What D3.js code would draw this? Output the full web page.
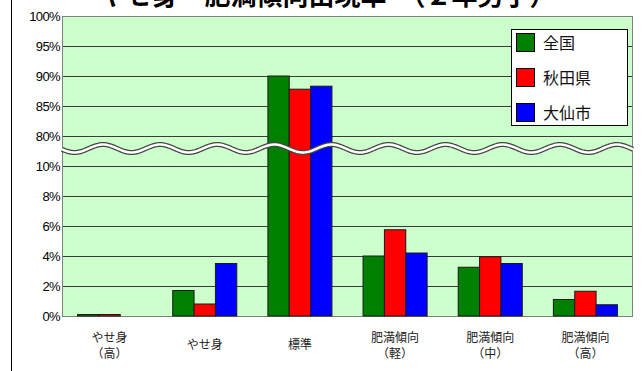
<!DOCTYPE html>
<html>
<head>
<meta charset="utf-8">
<script src="https://cdn.jsdelivr.net/npm/d3@7"></script>
<style>
  html, body { margin: 0; padding: 0; background: #fff; }
  svg { display: block; }
</style>
</head>
<body>
<svg id="chart" width="644" height="371"></svg>
<script>
// Category labels (each entry is a list of lines)
const categories = ["やせ身（高）", "やせ身", "標準", "肥満傾向（軽）", "肥満傾向（中）", "肥満傾向（高）"];
const categoryLines = [["やせ身", "（高）"], ["やせ身"], ["標準"], ["肥満傾向", "（軽）"], ["肥満傾向", "（中）"], ["肥満傾向", "（高）"]];

// Series names and colours
const seriesNames = ["全国", "秋田県", "大仙市"];
const seriesColors = ["#008000", "#FF0000", "#0000FF"];

// Rates (%) per category
const zenkoku = [0.1, 1.7, 90.0, 4.0, 3.25, 1.1];
const akita   = [0.1, 0.8, 87.8, 5.75, 3.95, 1.65];
const daisen  = [0.0, 3.5, 88.3, 4.2, 3.5, 0.75];

// Broken value axis: lower part 0–10 %, upper part 80–100 %
const tickValues = [0, 2, 4, 6, 8, 10, 80, 85, 90, 95, 100];
const tickLabels = ["0%", "2%", "4%", "6%", "8%", "10%", "80%", "85%", "90%", "95%", "100%"];

const titleText = "やせ身・肥満傾向出現率　（２年男子）";

const seriesValues = [zenkoku, akita, daisen];

const svg = d3.select("#chart");
const W = 644, H = 371;
const plot = { left: 62, right: 633, top: 16, bottom: 316 };

// Frame line on the left
svg.append("line")
  .attr("x1", 11.5).attr("x2", 11.5).attr("y1", 0).attr("y2", H)
  .attr("stroke", "#000").attr("stroke-width", 1);

// Title (runs past the top edge of the frame)
svg.append("text")
  .attr("x", 328).attr("y", 5)
  .attr("text-anchor", "middle")
  .attr("font-family", "'Noto Sans CJK JP', sans-serif")
  .attr("font-size", 26).attr("font-weight", "bold")
  .attr("fill", "#000")
  .text(titleText);

const y = d3.scaleLinear()
  .domain([0, 10, 80, 100])
  .range([plot.bottom, plot.bottom - 150, plot.bottom - 180, plot.top]);

const x0 = d3.scaleBand()
  .domain(categories)
  .range([plot.left, plot.right])
  .paddingInner(0.327).paddingOuter(0.1635);

const x1 = d3.scaleBand()
  .domain(seriesNames)
  .range([0, x0.bandwidth()]);

// Plot background
svg.append("rect")
  .attr("x", plot.left).attr("y", plot.top)
  .attr("width", plot.right - plot.left).attr("height", plot.bottom - plot.top)
  .attr("fill", "#CCFFCC");

// Gridlines
svg.append("g")
  .selectAll("line")
  .data(tickValues.filter(v => v !== 0 && v !== 100))
  .join("line")
  .attr("x1", plot.left).attr("x2", plot.right)
  .attr("y1", d => Math.round(y(d)) + 0.5).attr("y2", d => Math.round(y(d)) + 0.5)
  .attr("stroke", "#3a3a3a").attr("stroke-width", 1);

// Plot border
svg.append("rect")
  .attr("x", plot.left + 0.5).attr("y", plot.top + 0.5)
  .attr("width", plot.right - plot.left - 1).attr("height", plot.bottom - plot.top)
  .attr("fill", "none").attr("stroke", "#808080").attr("stroke-width", 1);

// Value axis labels
const yAxis = d3.axisLeft(y)
  .tickValues(tickValues)
  .tickFormat((d, i) => tickLabels[i])
  .tickSize(0).tickPadding(2);
const yg = svg.append("g")
  .attr("transform", `translate(${plot.left},0)`)
  .call(yAxis);
yg.select(".domain").remove();
yg.selectAll("text")
  .attr("font-family", "'Liberation Sans', Arial, sans-serif")
  .attr("font-size", 13)
  .attr("letter-spacing", -0.6)
  .attr("fill", "#000");

// Bars
const groups = svg.append("g")
  .selectAll("g")
  .data(categories)
  .join("g")
  .attr("transform", d => `translate(${x0(d)},0)`);

groups.selectAll("rect")
  .data((d, ci) => seriesNames.map((s, si) => ({ s, si, v: seriesValues[si][ci] })))
  .join("rect")
  .filter(d => d.v > 0)
  .attr("x", d => x1(d.s))
  .attr("y", d => y(d.v))
  .attr("width", x1.bandwidth())
  .attr("height", d => y(0) - y(d.v))
  .attr("fill", d => seriesColors[d.si])
  .attr("stroke", "#1a1a1a").attr("stroke-width", 1);

// Axis break: wavy line between 10 % and 80 %
const waveY = (y(10) + y(80)) / 2 - 2.5;
const period = (plot.right - plot.left) / 10;
const wavePts = d3.range(plot.left, plot.right + 0.5, 1)
  .map(px => [px, waveY - 4 * Math.cos(2 * Math.PI * (px - plot.left - 41) / period)]);
const waveLine = d3.line().curve(d3.curveBasis);
svg.append("path")
  .attr("d", waveLine(wavePts))
  .attr("fill", "none").attr("stroke", "#444").attr("stroke-width", 5);
svg.append("path")
  .attr("d", waveLine(wavePts))
  .attr("fill", "none").attr("stroke", "#fff").attr("stroke-width", 2.5);

// Category labels
const xl = svg.append("g")
  .selectAll("text")
  .data(categories)
  .join("text")
  .attr("text-anchor", "middle")
  .attr("font-family", "'Noto Sans CJK JP', sans-serif")
  .attr("font-size", 12)
  .attr("fill", "#222")
  .attr("transform", d => `translate(${x0(d) + x0.bandwidth() / 2},0)`);
xl.each(function (d, i) {
  const lines = categoryLines[i];
  const sel = d3.select(this);
  const startY = lines.length === 1 ? 348.5 : 341.5;
  lines.forEach((ln, li) => {
    sel.append("tspan").attr("x", 0).attr("y", startY + li * 16).text(ln);
  });
});

// Legend
const legend = svg.append("g");
legend.append("rect")
  .attr("x", 511.5).attr("y", 29.5).attr("width", 116).attr("height", 96)
  .attr("fill", "#fff").attr("stroke", "#000").attr("stroke-width", 1);
seriesNames.forEach((name, i) => {
  legend.append("rect")
    .attr("x", 516.5).attr("y", 33.5 + i * 35).attr("width", 18).attr("height", 18)
    .attr("fill", seriesColors[i]).attr("stroke", "#000").attr("stroke-width", 1);
  legend.append("text")
    .attr("x", 543).attr("y", 48.5 + i * 35)
    .attr("font-family", "'Noto Sans CJK JP', sans-serif")
    .attr("font-size", 16)
    .attr("fill", "#111")
    .text(name);
});
</script>
</body>
</html>
